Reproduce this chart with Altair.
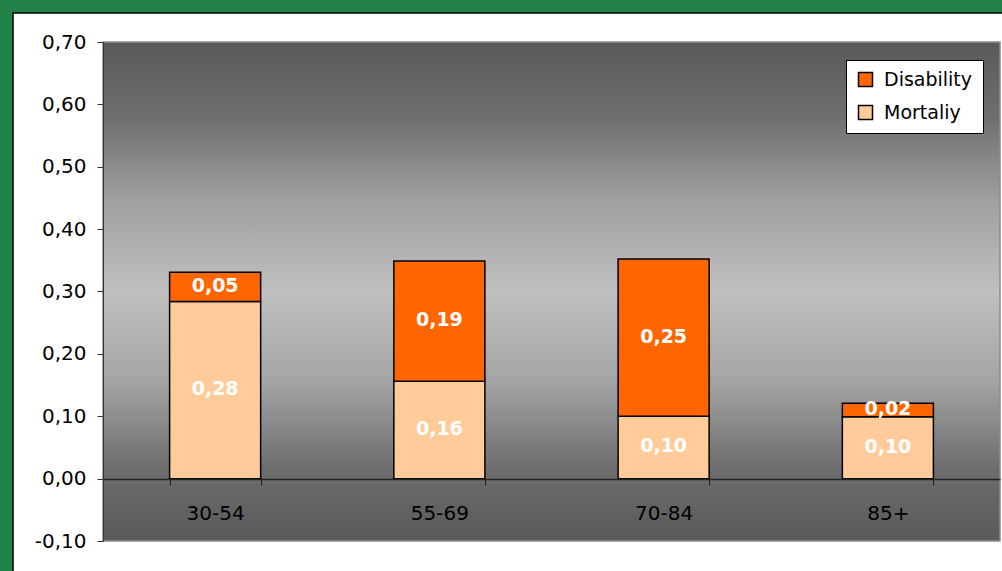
import altair as alt
import pandas as pd

ages = ["30-54", "55-69", "70-84", "85+"]
mortality = [0.284, 0.156, 0.100, 0.099]
disability = [0.047, 0.193, 0.252, 0.022]
series = ["Disability", "Mortaliy"]
colors = ["#FF6600", "#FFCC99"]
y_ticks = [-0.1, 0.0, 0.1, 0.2, 0.3, 0.4, 0.5, 0.6, 0.7]

rows = []
for a, m, d in zip(ages, mortality, disability):
    rows.append({"age": a, "series": "Mortaliy", "value": m, "ord": 0})
    rows.append({"age": a, "series": "Disability", "value": d, "ord": 1})
df = pd.DataFrame(rows)

W, H = 897, 499
FONT = "DejaVu Sans"

xscale = alt.Scale(domain=ages, paddingInner=0.594, paddingOuter=0.297)
yscale = alt.Scale(domain=[-0.1, 0.7], nice=False, zero=False)
label_expr = "replace(replace(format(datum.value, '.2f'), '.', ','), '\u2212', '-')"

yaxis = alt.Axis(values=y_ticks, labelExpr=label_expr, tickSize=6, labelPadding=11,
                 labelFontSize=20, labelFont=FONT, labelColor="black",
                 domainColor="#333333", tickColor="#333333", grid=False, title=None,
                 zindex=1)
xaxis = alt.Axis(orient="bottom", offset=-62, tickBand="extent", tickSize=6,
                 tickColor="#222222", domainColor="#222222", domainWidth=1.5,
                 labelFontSize=20, labelFont=FONT, labelColor="black", labelPadding=18,
                 labelAngle=0, title=None, zindex=1)

one = pd.DataFrame({"k": [0]})

panel = alt.Chart(one).mark_rect(fill="white", stroke="black", strokeWidth=1.5).encode(
    x=alt.value(-90), x2=alt.value(W + 20), y=alt.value(-29), y2=alt.value(H + 40)
)

grad = alt.LinearGradient(
    gradient="linear", x1=0, x2=0, y1=0, y2=1,
    stops=[
        alt.GradientStop(offset=0.0, color="#595959"),
        alt.GradientStop(offset=0.15, color="#6f6f6f"),
        alt.GradientStop(offset=0.32, color="#a0a0a0"),
        alt.GradientStop(offset=0.5, color="#c0c0c0"),
        alt.GradientStop(offset=0.68, color="#a4a4a4"),
        alt.GradientStop(offset=0.86, color="#6c6c6c"),
        alt.GradientStop(offset=1.0, color="#5a5a5a"),
    ],
)
bg = alt.Chart(one).mark_rect(color=grad, stroke="#8c8c8c", strokeWidth=1.5).encode(
    x=alt.value(0), x2=alt.value(W),
    y=alt.Y(datum=0.7, scale=yscale, axis=yaxis), y2=alt.datum(-0.1)
)

base = alt.Chart(df).transform_stack(
    stack="value", groupby=["age"], sort=[alt.SortField("ord", order="ascending")],
    as_=["y0", "y1"]
).transform_calculate(
    mid="(datum.y0 + datum.y1) / 2",
    lab="replace(format(datum.value, '.2f'), '.', ',')",
)

bars = base.mark_bar(stroke="black", strokeWidth=1.5).encode(
    x=alt.X("age:N", scale=xscale, axis=xaxis, sort=ages),
    y=alt.Y("y1:Q", scale=yscale, axis=yaxis),
    y2="y0:Q",
    color=alt.Color("series:N", scale=alt.Scale(domain=series, range=colors),
                    legend=alt.Legend(orient="none", legendX=743, legendY=18, title=None,
                                      fillColor="white", strokeColor="black", padding=10,
                                      labelFontSize=19, labelFont=FONT, labelColor="black",
                                      symbolType="square", symbolSize=196,
                                      symbolStrokeColor="black", symbolStrokeWidth=1.5,
                                      symbolOpacity=1, rowPadding=12, labelOffset=9)),
)

texts = base.mark_text(color="white", fontSize=19, fontWeight="bold", font=FONT, dy=-1).encode(
    x=alt.X("age:N", scale=xscale, axis=xaxis, sort=ages),
    y=alt.Y("mid:Q", scale=yscale, axis=yaxis),
    text="lab:N",
)

chart = alt.layer(panel, bg, bars, texts).properties(
    width=W, height=H, background="#22824a",
    padding={"left": 103, "top": 42, "right": 2, "bottom": 30},
    autosize=alt.AutoSizeParams(type="none"),
).configure_view(stroke=None)

chart.save("out.html", embed_options={"renderer": "svg", "actions": False})
